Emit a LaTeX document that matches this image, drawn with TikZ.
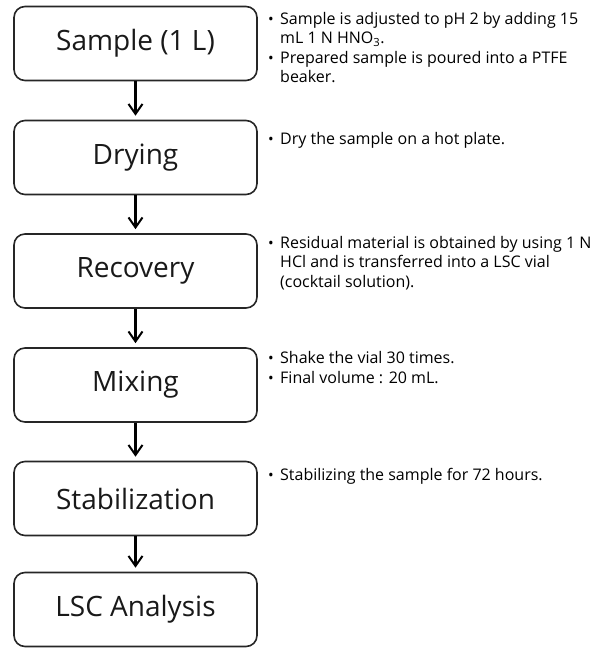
\documentclass[tikz,border=0pt]{standalone}
\usepackage{fontspec}
\setmainfont{Open Sans}
\usetikzlibrary{arrows.meta}
\newcommand\bul{{\fontsize{15}{15}\selectfont•}}
\begin{document}
\begin{tikzpicture}[x=1pt,y=-1pt,
  box/.style={draw=black!85, line width=1.6pt, rounded corners=11pt,
    minimum width=243pt, minimum height=74pt, inner sep=0pt,
    font=\fontsize{28}{30}\selectfont, text=black!90},
  flow/.style={-{Straight Barb[length=10pt,width=14pt,line width=2pt]},
    line width=2.2pt, black, shorten >=4pt},
  note/.style={anchor=base west, inner sep=0pt, font=\fontsize{16}{19}\selectfont},
  bnote/.style={anchor=base west, inner sep=0pt},
]
\useasboundingbox (0,0) rectangle (611,648);
\fill[white] (0,0) rectangle (611,648);

\node[box] (n1) at (135.5, 43.5) {Sample (1 L)};
\node[box] (n2) at (135.5, 157.5) {Drying};
\node[box] (n3) at (135.5, 271) {Recovery};
\node[box] (n4) at (135.5, 385) {Mixing};
\node[box] (n5) at (135.5, 498.5) {Stabilization};
\node[box] (n6) at (135.5, 609.5) {LSC Analysis};

\draw[flow] (n1) -- (n2);
\draw[flow] (n2) -- (n3);
\draw[flow] (n3) -- (n4);
\draw[flow] (n4) -- (n5);
\draw[flow] (n5) -- (n6);

% notes
\node[bnote] (b1a) at (268,24) {\bul};
\node[note] (t1a) at (280,24) {Sample is adjusted to pH 2 by adding 15};
\node[note] (t1b) at (280,43.5) {mL 1 N HNO\textsubscript{3}.};
\node[bnote] (b1b) at (268,63) {\bul};
\node[note] (t1c) at (280,63) {Prepared sample is poured into a PTFE};
\node[note] (t1d) at (280,82.5) {beaker.};

\node[bnote] (b2a) at (268,144) {\bul};
\node[note] (t2a) at (280,144) {Dry the sample on a hot plate.};

\node[bnote] (b3a) at (268,248) {\bul};
\node[note] (t3a) at (280,248) {Residual material is obtained by using 1 N};
\node[note] (t3b) at (280,267.5) {HCl and is transferred into a LSC vial};
\node[note] (t3c) at (280,287) {(cocktail solution).};

\node[bnote] (b4a) at (268,363) {\bul};
\node[note] (t4a) at (280,363) {Shake the vial 30 times.};
\node[bnote] (b4b) at (268,383) {\bul};
\node[note] (t4b) at (280,383) {Final volume : 20 mL.};

\node[bnote] (b5a) at (268,480) {\bul};
\node[note] (t5a) at (280,480) {Stabilizing the sample for 72 hours.};
\end{tikzpicture}
\end{document}
